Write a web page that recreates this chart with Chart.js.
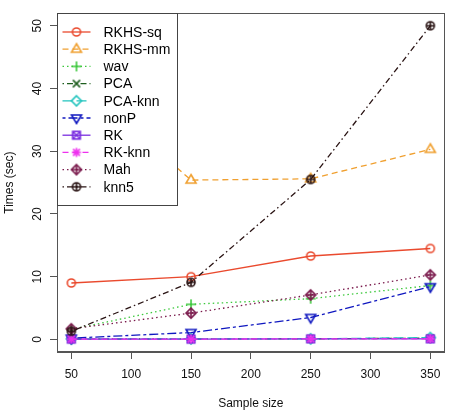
<!DOCTYPE html>
<html><head><meta charset="utf-8">
<script src="https://cdn.jsdelivr.net/npm/chart.js@4/dist/chart.umd.min.js"></script>
<style>html,body{margin:0;padding:0;background:#fff;overflow:hidden}</style>
</head><body>
<canvas id="c" width="451" height="412" style="display:block;width:451px;height:412px"></canvas>
<script>
// ---- data ----
const sampleSizes = [50, 150, 250, 350];
const seriesNames = ["RKHS-sq", "RKHS-mm", "wav", "PCA", "PCA-knn", "nonP", "RK", "RK-knn", "Mah", "knn5"];
const rkhsSq  = [9.0, 10.0, 13.3, 14.5];
const rkhsMm  = [42.0, 25.4, 25.6, 30.3];
const wav     = [1.6, 5.6, 6.5, 8.6];
const pca     = [0.1, 0.1, 0.1, 0.2];
const pcaKnn  = [0.1, 0.1, 0.1, 0.3];
const nonP    = [0.2, 1.1, 3.5, 8.4];
const rk      = [0.05, 0.05, 0.1, 0.1];
const rkKnn   = [0.05, 0.05, 0.1, 0.1];
const mah     = [1.7, 4.2, 7.1, 10.3];
const knn5    = [1.3, 9.1, 25.5, 50.0];
const xTicks = [50, 100, 150, 200, 250, 300, 350];
const yTicks = [0, 10, 20, 30, 40, 50];
const xTitle = "Sample size";
const yTitle = "Times (sec)";

// ---- styles ----
const seriesValues = [rkhsSq, rkhsMm, wav, pca, pcaKnn, nonP, rk, rkKnn, mah, knn5];
const colors = ["#EA4A2E", "#F0A030", "#3CC83C", "#1E5E1E", "#22C4BE", "#1018C0", "#7A2EE0", "#EE30EE", "#7A1A4C", "#2A1414"];
const pchs = [1, 2, 3, 4, 5, 6, 7, 8, 9, 10];
const dashes = [[], [6,4], [1.5,3], [1.5,3,6,3], [10,4], [3,3,9,3], [], [6,4], [1.5,3], [1.5,3,6,3]];

function makeMarker(pch, color) {
  const s = 16, m = s / 2;
  const c = document.createElement('canvas');
  c.width = s; c.height = s;
  const g = c.getContext('2d');
  g.strokeStyle = color; g.fillStyle = color; g.lineWidth = 1.6;
  const circle = r => { g.beginPath(); g.arc(m, m, r, 0, 2 * Math.PI); g.stroke(); };
  const plus = a => { g.beginPath(); g.moveTo(m - a, m); g.lineTo(m + a, m); g.moveTo(m, m - a); g.lineTo(m, m + a); g.stroke(); };
  const cross = a => { g.beginPath(); g.moveTo(m - a, m - a); g.lineTo(m + a, m + a); g.moveTo(m + a, m - a); g.lineTo(m - a, m + a); g.stroke(); };
  const diamond = r => { g.beginPath(); g.moveTo(m, m - r); g.lineTo(m + r, m); g.lineTo(m, m + r); g.lineTo(m - r, m); g.closePath(); g.stroke(); };
  switch (pch) {
    case 1: circle(4); break;
    case 2: g.beginPath(); g.moveTo(m, m - 5.5); g.lineTo(m + 5, m + 3); g.lineTo(m - 5, m + 3); g.closePath(); g.stroke(); break;
    case 3: plus(5); break;
    case 4: cross(3.6); break;
    case 5: diamond(5); break;
    case 6: g.beginPath(); g.moveTo(m, m + 5.5); g.lineTo(m + 5, m - 3); g.lineTo(m - 5, m - 3); g.closePath(); g.stroke(); break;
    case 7: g.strokeRect(m - 3.8, m - 3.8, 7.6, 7.6); cross(3.8); break;
    case 8: plus(4.5); cross(3.4); break;
    case 9: diamond(5); plus(5); break;
    case 10: circle(4); plus(4); break;
  }
  return c;
}
const markers = pchs.map((p, i) => makeMarker(p, colors[i]));

const datasets = seriesNames.map((name, i) => ({
  label: name,
  data: sampleSizes.map((x, j) => ({ x: x, y: seriesValues[i][j] })),
  borderColor: colors[i],
  backgroundColor: colors[i],
  borderWidth: 1.3,
  borderDash: dashes[i],
  pointStyle: markers[i],
  pointRadius: 5,
  tension: 0,
  fill: false,
  order: seriesNames.length - i
}));

const FONT = "'Liberation Sans', Arial, Helvetica, sans-serif";

const rPlugin = {
  id: 'rbox',
  afterDatasetsDraw(chart) {
    const { ctx, chartArea: a } = chart;
    ctx.save();
    ctx.setLineDash([]);
    ctx.strokeStyle = '#555'; ctx.lineWidth = 1;
    ctx.strokeRect(Math.round(a.left) + 0.5, Math.round(a.top) + 0.5, Math.round(a.right - a.left) - 1, Math.round(a.bottom - a.top) - 1);
    // legend box
    const lx = Math.round(a.left) + 0.5, ly = Math.round(a.top) + 0.5;
    const lw = 120, rowH = 17.2, lh = 192;
    ctx.fillStyle = '#fff';
    ctx.fillRect(lx, ly, lw, lh);
    ctx.strokeStyle = '#444';
    ctx.strokeRect(lx, ly, lw, lh);
    ctx.font = "14px " + FONT;
    ctx.textBaseline = 'middle';
    ctx.textAlign = 'left';
    chart.data.datasets.forEach((ds, i) => {
      const y = ly + 18.5 + i * rowH;
      ctx.strokeStyle = ds.borderColor;
      ctx.lineWidth = 1.3;
      ctx.setLineDash(ds.borderDash);
      ctx.beginPath(); ctx.moveTo(lx + 5, y); ctx.lineTo(lx + 33, y); ctx.stroke();
      ctx.setLineDash([]);
      const mk = ds.pointStyle;
      ctx.drawImage(mk, lx + 19 - mk.width / 2, y - mk.height / 2);
      ctx.fillStyle = '#000';
      ctx.fillText(ds.label, lx + 46, y + 1);
    });
    ctx.restore();
  }
};

new Chart(document.getElementById('c'), {
  type: 'line',
  data: { datasets: datasets },
  plugins: [rPlugin],
  options: {
    responsive: false,
    devicePixelRatio: 1,
    animation: false,
    layout: { padding: { top: 4, right: 3, left: 0, bottom: 0 } },
    plugins: { legend: { display: false }, tooltip: { enabled: false } },
    scales: {
      x: {
        type: 'linear', min: 38, max: 362,
        afterBuildTicks: s => { s.ticks = xTicks.map(v => ({ value: v })); },
        afterFit: s => { s.height = 60; },
        grid: { display: true, drawOnChartArea: false, drawTicks: true, tickLength: 7, color: '#555' },
        border: { display: true, color: '#555' },
        ticks: { color: '#111', font: { size: 12, family: FONT }, padding: 8, maxRotation: 0, autoSkip: false },
        title: { display: true, text: xTitle, color: '#111', font: { size: 12, family: FONT }, padding: { top: 0, bottom: 1 } }
      },
      y: {
        type: 'linear', min: -2, max: 52,
        afterBuildTicks: s => { s.ticks = yTicks.map(v => ({ value: v })); },
        afterFit: s => { s.width = 57; },
        grid: { display: true, drawOnChartArea: false, drawTicks: true, tickLength: 7, color: '#555' },
        border: { display: true, color: '#555' },
        ticks: { color: '#111', font: { size: 12, family: FONT }, padding: 6, minRotation: 90, maxRotation: 90, crossAlign: 'center', autoSkip: false },
        title: { display: true, text: yTitle, color: '#111', font: { size: 12, family: FONT }, padding: { top: 2, bottom: 0 } }
      }
    }
  }
});
</script>
</body></html>
